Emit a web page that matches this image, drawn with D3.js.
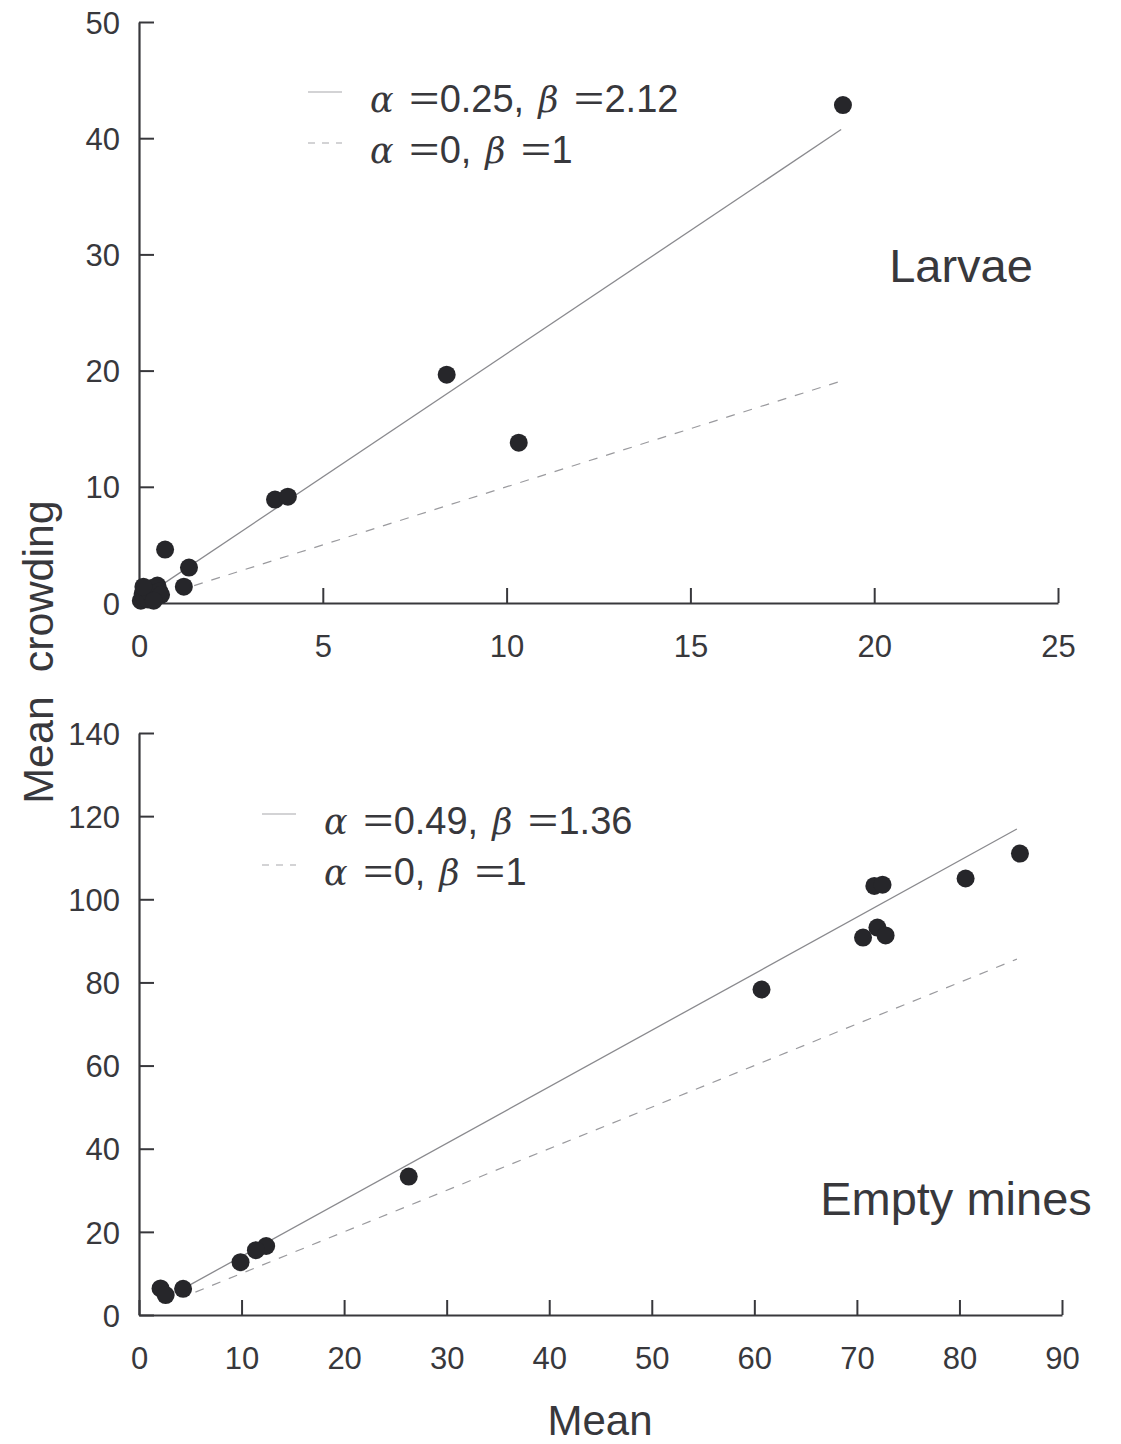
<!DOCTYPE html>
<html>
<head>
<meta charset="utf-8">
<script src="https://cdn.jsdelivr.net/npm/d3@7"></script>
<style>
  html, body { margin: 0; padding: 0; background: #fff; }
  svg { display: block; }
</style>
</head>
<body>
<svg id="chart" width="1121" height="1444"></svg>
<script>
// Larvae panel: mean density vs mean crowding
const larvaeMean     = [19.15, 8.37, 10.33, 3.70, 4.05, 0.71, 1.36, 1.22, 0.05, 0.10, 0.15, 0.20, 0.25, 0.30, 0.35, 0.45, 0.50, 0.55, 0.60, 0.12, 0.40];
const larvaeCrowding = [42.85, 19.65, 13.80, 8.90, 9.15, 4.60, 3.05, 1.40, 0.20, 0.80, 0.40, 1.10, 0.30, 0.90, 1.30, 0.60, 1.50, 1.00, 0.70, 1.40, 0.20];
// Empty mines panel
const minesMean      = [85.9, 80.6, 71.7, 72.5, 72.0, 70.6, 72.8, 60.7, 26.3, 12.4, 11.4, 9.9, 4.3, 2.1, 2.6];
const minesCrowding  = [111.0, 105.0, 103.2, 103.5, 93.2, 90.8, 91.3, 78.3, 33.3, 16.6, 15.6, 12.7, 6.3, 6.4, 4.8];

// Iwao regression parameters and fitted ranges
const larvaeFit   = { alpha: 0.25, beta: 2.12, from: 0.0, to: 19.1 };
const larvaeRef   = { alpha: 0,    beta: 1,    from: 1.5, to: 19.1 };
const minesFit    = { alpha: 0.49, beta: 1.36, from: 4.0, to: 85.6 };
const minesRef    = { alpha: 0,    beta: 1,    from: 5.5, to: 85.6 };

// Tick labels
const larvaeXTicks = [0, 5, 10, 15, 20, 25];
const larvaeYTicks = [0, 10, 20, 30, 40, 50];
const minesXTicks  = [0, 10, 20, 30, 40, 50, 60, 70, 80, 90];
const minesYTicks  = [0, 20, 40, 60, 80, 100, 120, 140];

const svg = d3.select("#chart");
const FONT = "'Liberation Sans', Arial, sans-serif";
const AXIS_COLOR = "#38383c";
const TEXT_COLOR = "#38383c";
const DOT_COLOR = "#26262a";

function panel(cfg) {
  const x = d3.scaleLinear().domain(cfg.xDomain).range(cfg.xRange);
  const y = d3.scaleLinear().domain(cfg.yDomain).range(cfg.yRange);
  const g = svg.append("g");

  // x axis with inward ticks
  const xAxis = d3.axisBottom(x).tickValues(cfg.xTicks).tickSizeInner(-15).tickSizeOuter(0).tickPadding(32);
  const gx = g.append("g").attr("transform", `translate(0,${cfg.yRange[0]})`).call(xAxis);
  // y axis with inward ticks
  const yAxis = d3.axisLeft(y).tickValues(cfg.yTicks).tickSizeInner(-15).tickSizeOuter(0).tickPadding(19);
  const gy = g.append("g").attr("transform", `translate(${cfg.xRange[0]},0)`).call(yAxis);

  [gx, gy].forEach(a => {
    a.select(".domain").attr("stroke", AXIS_COLOR).attr("stroke-width", 2.2);
    a.selectAll(".tick line").attr("stroke", AXIS_COLOR).attr("stroke-width", 2);
    a.selectAll(".tick text").attr("fill", TEXT_COLOR).style("font-family", FONT).style("font-size", "31px");
  });
  gx.selectAll(".tick text").attr("dy", "0.71em");
  gy.selectAll(".tick text").attr("dy", "0.36em");

  const line = d3.line().x(d => x(d[0])).y(d => y(d[1]));
  const seg = p => [[p.from, p.alpha + p.beta * p.from], [p.to, p.alpha + p.beta * p.to]];

  // fitted regression line
  g.append("path").datum(seg(cfg.fit)).attr("d", line)
    .attr("fill", "none").attr("stroke", "#8a8a8e").attr("stroke-width", 1.3);
  // reference line (Poisson, alpha = 0, beta = 1)
  g.append("path").datum(seg(cfg.ref)).attr("d", line)
    .attr("fill", "none").attr("stroke", "#9a9a9e").attr("stroke-width", 1.2)
    .attr("stroke-dasharray", "9,9");

  // observations
  g.append("g").selectAll("circle")
    .data(cfg.xs.map((v, i) => [v, cfg.ys[i]]))
    .join("circle")
    .attr("cx", d => x(d[0])).attr("cy", d => y(d[1])).attr("r", 9)
    .attr("fill", DOT_COLOR);

  // legend
  const lg = g.append("g").attr("transform", `translate(${cfg.legend[0]},${cfg.legend[1]})`);
  const rows = [
    { dash: null, a: cfg.fit.alpha, b: cfg.fit.beta },
    { dash: "7,7", a: cfg.ref.alpha, b: cfg.ref.beta }
  ];
  const greek = t => t.append("tspan").style("font-style", "italic")
    .style("font-family", "'DejaVu Serif', serif").style("font-size", "35px");
  const eq = t => t.append("tspan").style("font-family", "'Noto Sans CJK JP', sans-serif")
    .style("font-size", "35px").text("＝");
  rows.forEach((r, i) => {
    const ry = i * 51;
    lg.append("line").attr("x1", 0).attr("x2", 34).attr("y1", ry - 6).attr("y2", ry - 6)
      .attr("stroke", "#a8a8ac").attr("stroke-width", 1.2)
      .attr("stroke-dasharray", r.dash);
    const t = lg.append("text").attr("x", 62).attr("y", ry).attr("dy", "0.36em")
      .attr("fill", TEXT_COLOR).style("font-family", FONT).style("font-size", "38px");
    greek(t).text("α");
    eq(t).attr("dx", 13);
    t.append("tspan").attr("dx", -2).text(`${r.a},`);
    greek(t).attr("dx", 14).text("β");
    eq(t).attr("dx", 13);
    t.append("tspan").attr("dx", -2).text(`${r.b}`);
  });

  // panel title
  g.append("text").attr("x", cfg.title[0]).attr("y", cfg.title[1]).attr("dy", "0.36em")
    .attr("text-anchor", "middle").attr("fill", TEXT_COLOR)
    .style("font-family", FONT).style("font-size", "47px").text(cfg.name);
}

panel({
  name: "Larvae",
  xs: larvaeMean, ys: larvaeCrowding,
  xDomain: [0, 25], xRange: [139, 1058],
  yDomain: [0, 50], yRange: [603, 22],
  xTicks: larvaeXTicks, yTicks: larvaeYTicks,
  fit: larvaeFit, ref: larvaeRef,
  legend: [308, 98], title: [961, 265]
});

panel({
  name: "Empty mines",
  xs: minesMean, ys: minesCrowding,
  xDomain: [0, 90], xRange: [139, 1062],
  yDomain: [0, 140], yRange: [1315, 733],
  xTicks: minesXTicks, yTicks: minesYTicks,
  fit: minesFit, ref: minesRef,
  legend: [262, 820], title: [956, 1198]
});

// shared axis titles
svg.append("text").attr("transform", "translate(38,652) rotate(-90)")
  .attr("text-anchor", "middle").attr("dy", "0.36em").attr("fill", TEXT_COLOR)
  .style("font-family", FONT).style("font-size", "43px").attr("xml:space", "preserve")
  .text("Mean  crowding");
svg.append("text").attr("x", 600).attr("y", 1420).attr("dy", "0.36em")
  .attr("text-anchor", "middle").attr("fill", TEXT_COLOR)
  .style("font-family", FONT).style("font-size", "42px").text("Mean");
</script>
</body>
</html>
